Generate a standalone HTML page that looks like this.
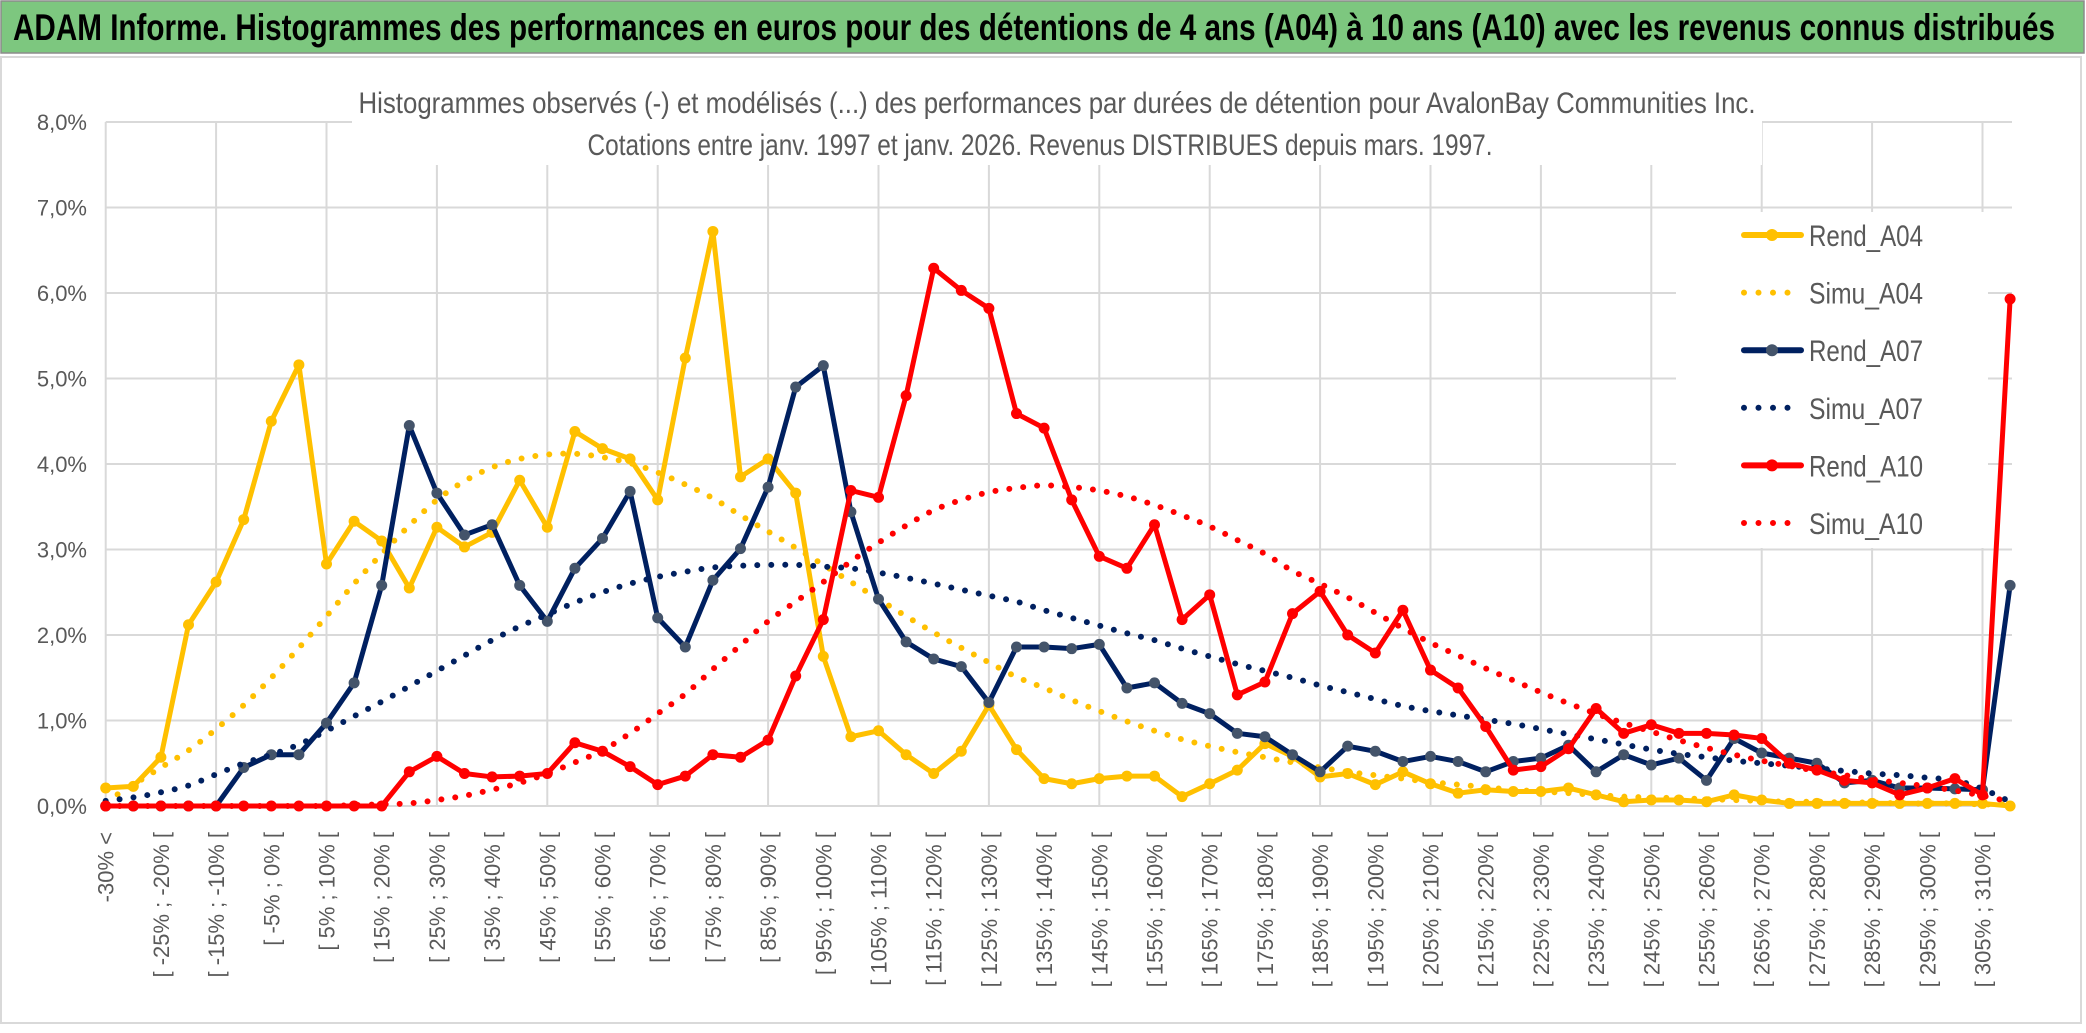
<!DOCTYPE html>
<html><head><meta charset="utf-8">
<style>
html,body{margin:0;padding:0;background:#fff;}
svg{display:block;}
text{font-family:"Liberation Sans",sans-serif;}
</style></head>
<body>
<svg id="chart" width="2086" height="1033" viewBox="0 0 2086 1033" xmlns="http://www.w3.org/2000/svg">
  <rect x="0" y="0" width="2086" height="1033" fill="#fff"/>
  <rect x="1" y="1" width="2083" height="52" fill="#7dc77f" stroke="#8c8c8c" stroke-width="1.5"/>
  <text x="13" y="40" font-size="37" font-weight="bold" fill="#000" textLength="2042" lengthAdjust="spacingAndGlyphs">ADAM Informe. Histogrammes des performances en euros pour des détentions de 4 ans (A04) à 10 ans (A10) avec les revenus connus distribués</text>
  <rect x="1" y="57" width="2080" height="966" fill="none" stroke="#d9d9d9" stroke-width="2"/>
  <g id="grid"></g>
  <rect x="352" y="70" width="1410" height="95" fill="#fff"/>
  <text x="1057" y="113" font-size="30" fill="#595959" text-anchor="middle" textLength="1397" lengthAdjust="spacingAndGlyphs">Histogrammes observés (-) et modélisés (...) des performances par durées de détention pour AvalonBay Communities Inc.</text>
  <text x="1040" y="155" font-size="30" fill="#595959" text-anchor="middle" textLength="905" lengthAdjust="spacingAndGlyphs">Cotations entre janv. 1997 et janv. 2026. Revenus DISTRIBUES depuis mars. 1997.</text>
  <g id="yaxis"></g>
  <g id="xaxis"></g>
  <rect x="1676" y="212" width="312" height="336" fill="#fff"/>
  <g id="series"></g>
  <g id="legend"></g>
</svg>
<script>
const categoriesCount = 70;
const yTicks = ["0,0%","1,0%","2,0%","3,0%","4,0%","5,0%","6,0%","7,0%","8,0%"];
const rendA04 = [0.21,0.23,0.57,2.12,2.62,3.35,4.5,5.16,2.83,3.33,3.1,2.55,3.26,3.03,3.2,3.81,3.26,4.38,4.18,4.06,3.58,5.24,6.72,3.85,4.06,3.66,1.75,0.81,0.88,0.6,0.38,0.64,1.18,0.66,0.32,0.26,0.32,0.35,0.35,0.11,0.26,0.42,0.73,0.58,0.34,0.38,0.25,0.4,0.26,0.15,0.19,0.17,0.17,0.21,0.13,0.05,0.07,0.07,0.05,0.13,0.07,0.03,0.03,0.03,0.03,0.03,0.03,0.03,0.03,0.0];
const simuA04 = [0.05,0.25,0.45,0.65,0.9,1.18,1.5,1.85,2.22,2.6,2.95,3.28,3.58,3.8,3.96,4.06,4.11,4.12,4.08,4.01,3.9,3.76,3.6,3.4,3.21,3.02,2.82,2.62,2.42,2.22,2.03,1.85,1.68,1.51,1.38,1.24,1.11,0.99,0.88,0.78,0.7,0.63,0.57,0.51,0.45,0.4,0.36,0.32,0.28,0.25,0.22,0.19,0.17,0.15,0.13,0.11,0.1,0.09,0.08,0.07,0.06,0.05,0.05,0.04,0.04,0.03,0.03,0.03,0.02,0.02];
const rendA07 = [0,0,0,0,0,0.45,0.6,0.6,0.97,1.44,2.58,4.45,3.66,3.17,3.29,2.58,2.16,2.78,3.13,3.68,2.2,1.86,2.64,3.01,3.73,4.9,5.15,3.44,2.42,1.92,1.72,1.63,1.21,1.86,1.86,1.84,1.89,1.38,1.44,1.2,1.08,0.85,0.81,0.6,0.4,0.7,0.64,0.52,0.58,0.52,0.4,0.52,0.56,0.71,0.4,0.6,0.48,0.56,0.3,0.79,0.62,0.56,0.5,0.27,0.3,0.21,0.21,0.2,0.19,2.58];
const simuA07 = [0.06,0.1,0.16,0.24,0.37,0.5,0.6,0.72,0.88,1.05,1.22,1.4,1.58,1.76,1.94,2.1,2.24,2.38,2.5,2.6,2.68,2.74,2.79,2.81,2.82,2.82,2.8,2.78,2.73,2.67,2.6,2.53,2.46,2.39,2.29,2.2,2.11,2.02,1.94,1.84,1.75,1.66,1.58,1.5,1.41,1.33,1.25,1.17,1.11,1.06,1.01,0.96,0.9,0.84,0.78,0.72,0.66,0.61,0.57,0.53,0.5,0.47,0.44,0.41,0.38,0.36,0.33,0.3,0.2,0.05];
const rendA10 = [0,0,0,0,0,0,0,0,0,0,0,0.4,0.58,0.38,0.34,0.35,0.38,0.74,0.64,0.46,0.25,0.35,0.6,0.57,0.77,1.52,2.18,3.69,3.61,4.8,6.29,6.03,5.82,4.59,4.42,3.58,2.92,2.78,3.29,2.18,2.47,1.3,1.45,2.25,2.51,2.0,1.79,2.29,1.59,1.38,0.93,0.42,0.46,0.67,1.14,0.85,0.95,0.85,0.85,0.83,0.79,0.5,0.42,0.3,0.27,0.13,0.21,0.32,0.13,5.93];
const simuA10 = [0,0,0,0,0,0,0,0,0,0.01,0.02,0.03,0.07,0.12,0.19,0.27,0.38,0.51,0.65,0.85,1.08,1.31,1.6,1.88,2.16,2.39,2.62,2.86,3.08,3.28,3.46,3.58,3.67,3.72,3.75,3.73,3.69,3.62,3.52,3.4,3.27,3.11,2.95,2.75,2.6,2.44,2.26,2.08,1.91,1.76,1.61,1.47,1.33,1.2,1.08,0.97,0.87,0.77,0.68,0.6,0.53,0.47,0.41,0.36,0.31,0.27,0.23,0.18,0.12,0.05];
const seriesNames = ["Rend_A04","Simu_A04","Rend_A07","Simu_A07","Rend_A10","Simu_A10"];

const NS = "http://www.w3.org/2000/svg";
function xS(i){ return 105.7 + 27.6*i; }
function yS(v){ return 806 - v*85.5; }
function mk(tag, attrs, parent){ const e=document.createElementNS(NS,tag); for(const k in attrs) e.setAttribute(k,attrs[k]); parent.appendChild(e); return e; }
function catLabel(i){ if(i===0) return "-30% <"; const lo=-30+5*(i-1); return "[ "+lo+"% ; "+(lo+5)+"% ["; }

const grid=document.getElementById('grid');
for(let k=0;k<yTicks.length;k++){
  const l=mk('line',{x1:xS(0),x2:2012,y1:yS(k),y2:yS(k),stroke:'#d9d9d9','stroke-width':2},grid);
  
  
}
for(let i=0;i<categoriesCount;i+=4){
  const l=mk('line',{x1:xS(i),x2:xS(i),y1:yS(8),y2:yS(0),stroke:'#d9d9d9','stroke-width':2},grid);
  
  
}
const ya=document.getElementById('yaxis');
yTicks.forEach((t,k)=>{
  const e=mk('text',{x:87,y:yS(k)+8,'font-size':22,fill:'#595959','text-anchor':'end'},ya);
  e.textContent=t;
  
  
});
const xa=document.getElementById('xaxis');
for(let i=0;i<categoriesCount;i+=2){
  const x=xS(i)+8, y=832;
  const e=mk('text',{x:x,y:y,'font-size':22,fill:'#595959','text-anchor':'end',transform:`rotate(-90 ${x} ${y})`},xa);
  e.textContent=catLabel(i);
  
  
}
function smoothPath(vals){
  const p=vals.map((v,i)=>[xS(i),yS(v)]);
  let d=`M${p[0][0]},${p[0][1]}`;
  for(let i=0;i<p.length-1;i++){
    const p0=p[Math.max(0,i-1)],p1=p[i],p2=p[i+1],p3=p[Math.min(p.length-1,i+2)];
    const c1=[p1[0]+(p2[0]-p0[0])/6,p1[1]+(p2[1]-p0[1])/6];
    const c2=[p2[0]-(p3[0]-p1[0])/6,p2[1]-(p3[1]-p1[1])/6];
    d+=` C${c1[0]},${c1[1]} ${c2[0]},${c2[1]} ${p2[0]},${p2[1]}`;
  }
  return d;
}
const sg=document.getElementById('series');
function drawRend(vals,color,mcolor,name){
  const pts=vals.map((v,i)=>xS(i)+','+yS(v)).join(' ');
  const pl=mk('polyline',{points:pts,fill:'none',stroke:color,'stroke-width':5,'stroke-linejoin':'round','stroke-linecap':'round'},sg);
  
  
  vals.forEach((v,i)=>{
    const c=mk('circle',{cx:xS(i),cy:yS(v),r:5.5,fill:mcolor},sg);
    
    
  });
}
function drawSimu(vals,color,name){
  const p=mk('path',{d:smoothPath(vals),fill:'none',stroke:color,'stroke-width':6,'stroke-linecap':'round','stroke-dasharray':'0 14'},sg);
  
  
}
drawRend(rendA04,'#ffc000','#ffc000','rend-a04');
drawSimu(simuA04,'#ffc000','simu-a04');
drawRend(rendA07,'#002060','#44546a','rend-a07');
drawSimu(simuA07,'#002060','simu-a07');
drawRend(rendA10,'#ff0000','#ff0000','rend-a10');
drawSimu(simuA10,'#ff0000','simu-a10');

const lg=document.getElementById('legend');
const lColors=['#ffc000','#ffc000','#002060','#002060','#ff0000','#ff0000'];
const lMark=['#ffc000',null,'#44546a',null,'#ff0000',null];
seriesNames.forEach((n,k)=>{
  const y=235+57.6*k;
  const g=mk('g',{},lg);
  
  
  if(lMark[k]){
    mk('line',{x1:1744,x2:1801,y1:y,y2:y,stroke:lColors[k],'stroke-width':6,'stroke-linecap':'round'},g);
    mk('circle',{cx:1772,cy:y,r:6,fill:lMark[k]},g);
  } else {
    mk('line',{x1:1744,x2:1801,y1:y,y2:y,stroke:lColors[k],'stroke-width':6,'stroke-linecap':'round','stroke-dasharray':'0 14.5'},g);
  }
  const t=mk('text',{x:1809,y:y+11,'font-size':30,fill:'#595959',textLength:114,lengthAdjust:'spacingAndGlyphs'},g);
  t.textContent=n;
});
</script>
</body></html>
